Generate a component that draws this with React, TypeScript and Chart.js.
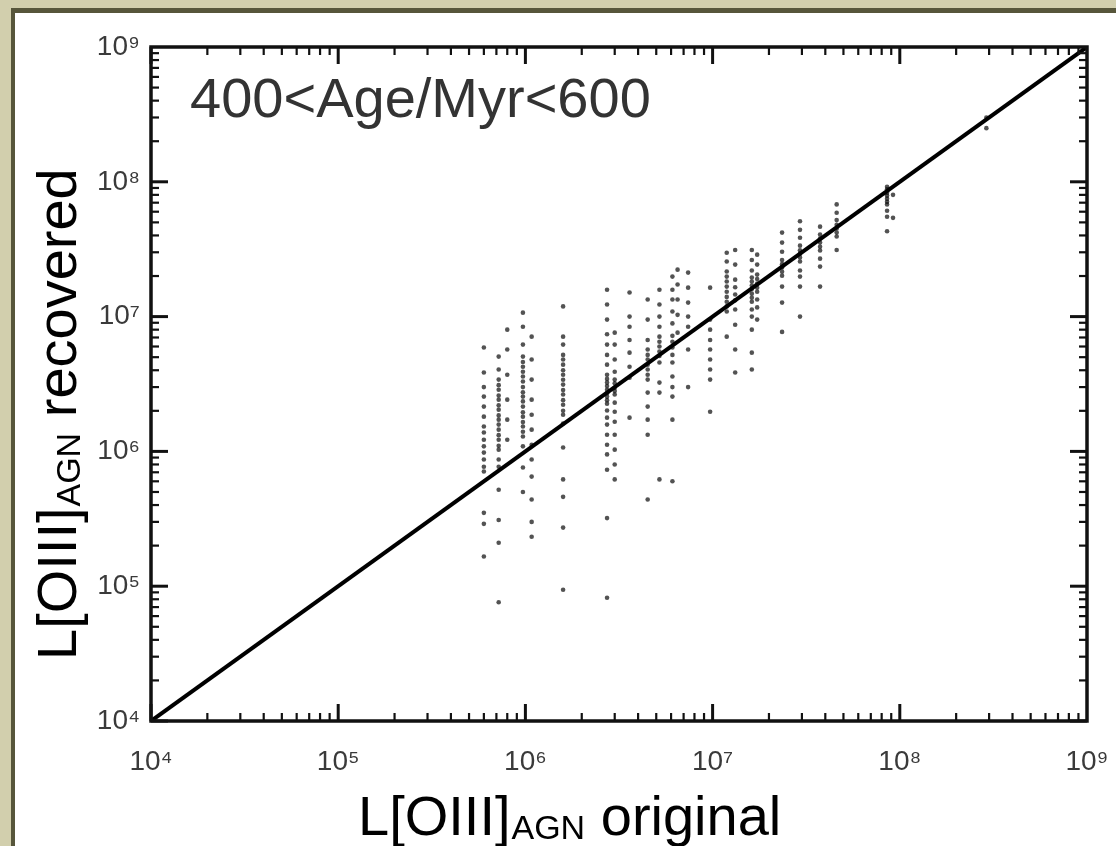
import React, { useEffect, useRef } from 'react';
import { Chart, registerables } from 'chart.js';

Chart.register(...registerables);

// ---- data ----
const tickLabels = ['10⁴', '10⁵', '10⁶', '10⁷', '10⁸', '10⁹'];
const axisMin = 1e4;
const axisMax = 1e9;
const lineX = [1e4, 1e9];
const lineY = [1e4, 1e9];
const panelLabel = '400<Age/Myr<600';
const titleMain = 'L[OIII]';
const titleSub = 'AGN';
const xTitleTail = ' original';
const yTitleTail = ' recovered';

const columnX = [
  6.0e5, 7.2e5, 8.0e5, 9.7e5, 1.08e6, 1.59e6, 2.73e6, 3.0e6, 3.6e6, 4.5e6, 5.2e6, 6.1e6, 6.5e6,
  7.4e6, 9.7e6, 1.19e7, 1.32e7, 1.62e7, 1.73e7, 2.35e7, 2.93e7, 3.75e7, 4.6e7, 8.55e7, 9.2e7, 2.9e8,
];
const columnY = [
  [5.9e6, 3.85e6, 3.0e6, 2.55e6, 2.15e6, 1.81e6, 1.53e6, 1.38e6, 1.22e6, 1.09e6, 9.8e5, 8.7e5, 7.7e5, 7.1e5, 3.5e5, 2.9e5, 1.66e5],
  [5.05e6, 4.05e6, 3.41e6, 3.1e6, 2.87e6, 2.6e6, 2.42e6, 2.2e6, 2.04e6, 1.85e6, 1.72e6, 1.58e6, 1.45e6, 1.32e6, 1.22e6, 1.1e6, 1.03e6, 8.7e5, 7.7e5, 5.2e5, 3.1e5, 2.1e5, 7.6e4],
  [8.0e6, 5.7e6, 3.7e6, 2.42e6, 1.72e6, 1.22e6],
  [1.07e7, 8.4e6, 6.2e6, 5.05e6, 4.6e6, 4.25e6, 3.9e6, 3.59e6, 3.3e6, 3.0e6, 2.75e6, 2.55e6, 2.35e6, 2.15e6, 1.95e6, 1.81e6, 1.65e6, 1.53e6, 1.4e6, 1.29e6, 1.09e6, 7.6e5, 5.0e5],
  [7.1e6, 4.8e6, 3.41e6, 2.42e6, 1.87e6, 1.45e6, 1.12e6, 8.7e5, 6.5e5, 4.4e5, 3.0e5, 2.33e5],
  [1.19e7, 7.1e6, 6.2e6, 5.2e6, 4.8e6, 4.4e6, 4.0e6, 3.7e6, 3.4e6, 3.13e6, 2.85e6, 2.64e6, 2.4e6, 2.22e6, 2.0e6, 1.87e6, 1.61e6, 1.07e6, 6.2e5, 4.6e5, 2.72e5, 9.4e4],
  [1.58e7, 1.23e7, 9.5e6, 7.4e6, 6.2e6, 5.2e6, 4.4e6, 3.7e6, 3.45e6, 3.24e6, 3.05e6, 2.87e6, 2.7e6, 2.55e6, 2.4e6, 2.26e6, 2.01e6, 1.78e6, 1.58e6, 1.33e6, 1.12e6, 9.5e5, 7.3e5, 3.2e5, 8.2e4],
  [7.6e6, 6.2e6, 4.8e6, 3.9e6, 3.41e6, 3.2e6, 2.97e6, 2.8e6, 2.64e6, 2.3e6, 1.97e6, 1.66e6, 1.33e6, 1.03e6, 8.0e5, 6.2e5],
  [1.51e7, 1.0e7, 8.4e6, 6.7e6, 5.4e6, 4.25e6, 3.52e6, 1.78e6],
  [1.34e7, 9.5e6, 6.7e6, 5.7e6, 5.2e6, 4.8e6, 4.4e6, 4.05e6, 3.7e6, 3.41e6, 2.73e6, 2.15e6, 1.72e6, 1.33e6, 4.4e5],
  [1.58e7, 1.23e7, 1.0e7, 8.4e6, 7.1e6, 6.5e6, 6.0e6, 5.5e6, 5.1e6, 4.56e6, 3.24e6, 2.73e6, 6.2e5],
  [1.98e7, 1.58e7, 1.34e7, 1.09e7, 8.9e6, 7.2e6, 6.5e6, 5.9e6, 5.2e6, 4.56e6, 3.59e6, 3.0e6, 2.55e6, 1.72e6, 6.0e5],
  [2.23e7, 1.73e7, 1.34e7, 1.03e7, 7.6e6],
  [2.12e7, 1.64e7, 1.27e7, 1.0e7, 8.4e6, 5.7e6, 3.0e6],
  [1.64e7, 9.5e6, 8.0e6, 6.7e6, 5.7e6, 4.8e6, 4.05e6, 3.41e6, 1.97e6],
  [2.98e7, 2.56e7, 2.16e7, 1.98e7, 1.82e7, 1.67e7, 1.53e7, 1.4e7, 1.29e7, 1.19e7, 1.09e7, 7.1e6],
  [3.12e7, 2.43e7, 1.88e7, 1.65e7, 1.46e7, 1.32e7, 1.13e7, 8.7e6, 5.7e6, 3.85e6],
  [3.12e7, 2.63e7, 2.2e7, 1.95e7, 1.82e7, 1.7e7, 1.6e7, 1.48e7, 1.38e7, 1.29e7, 1.13e7, 1.0e7, 8.0e6, 5.4e6, 4.05e6],
  [2.88e7, 2.43e7, 2.05e7, 1.9e7, 1.76e7, 1.64e7, 1.53e7, 1.34e7, 1.17e7, 9.5e6],
  [4.2e7, 3.54e7, 3.03e7, 2.63e7, 2.45e7, 2.31e7, 2.15e7, 2.01e7, 1.67e7, 1.27e7, 7.7e6],
  [5.1e7, 4.4e7, 3.85e7, 3.36e7, 3.1e7, 2.93e7, 2.75e7, 2.56e7, 2.2e7, 1.98e7, 1.67e7, 1.0e7],
  [4.65e7, 4.06e7, 3.8e7, 3.54e7, 3.3e7, 3.09e7, 2.69e7, 2.35e7, 1.67e7],
  [6.8e7, 5.9e7, 5.2e7, 4.8e7, 4.5e7, 4.2e7, 3.93e7, 3.12e7],
  [9.2e7, 8.8e7, 8.3e7, 7.9e7, 7.5e7, 7.1e7, 6.8e7, 6.1e7, 5.5e7, 4.3e7],
  [8.0e7, 5.4e7],
  [3.0e8, 2.5e8],
];

const FONT = '"Liberation Sans", Arial, Helvetica, sans-serif';

function decadeLabel(value: number): string {
  const e = Math.log10(value);
  const r = Math.round(e);
  if (Math.abs(e - r) < 1e-6 && r >= 4 && r <= 9) return tickLabels[r - 4];
  return '';
}

function drawSubTitle(ctx: CanvasRenderingContext2D, tail: string) {
  let x = 0;
  ctx.font = `56px ${FONT}`;
  ctx.fillText(titleMain, x, 0);
  x += ctx.measureText(titleMain).width;
  ctx.font = `34px ${FONT}`;
  ctx.fillText(titleSub, x + 1, 4);
  x += ctx.measureText(titleSub).width + 1;
  ctx.font = `56px ${FONT}`;
  ctx.fillText(tail, x, 0);
}

const framePlugin = {
  id: 'frameTicks',
  afterDatasetsDraw(chart: any) {
    const { ctx, chartArea: a, scales } = chart;
    const xs = scales.x;
    const ys = scales.y;
    ctx.save();
    ctx.strokeStyle = '#111';
    const seg = (x1: number, y1: number, x2: number, y2: number) => {
      ctx.beginPath();
      ctx.moveTo(x1, y1);
      ctx.lineTo(x2, y2);
      ctx.stroke();
    };
    for (let e = 4; e < 9; e++) {
      for (let m = 1; m <= 9; m++) {
        const v = m * Math.pow(10, e);
        const major = m === 1;
        const len = major ? 17 : 8;
        ctx.lineWidth = major ? 3 : 2.2;
        const px = xs.getPixelForValue(v);
        seg(px, a.bottom, px, a.bottom - len);
        seg(px, a.top, px, a.top + len);
        const py = ys.getPixelForValue(v);
        seg(a.left, py, a.left + len, py);
        seg(a.right, py, a.right - len, py);
      }
    }
    ctx.lineWidth = 3.5;
    ctx.strokeRect(a.left, a.top, a.right - a.left, a.bottom - a.top);
    ctx.restore();
  },
  afterDraw(chart: any) {
    const { ctx } = chart;
    ctx.save();
    ctx.textAlign = 'left';
    ctx.textBaseline = 'alphabetic';
    ctx.fillStyle = '#333';
    ctx.font = `56px ${FONT}`;
    ctx.fillText(panelLabel, 190, 117);
    ctx.fillStyle = '#000';
    ctx.save();
    ctx.translate(358, 835);
    drawSubTitle(ctx, xTitleTail);
    ctx.restore();
    ctx.save();
    ctx.translate(76, 660);
    ctx.rotate(-Math.PI / 2);
    drawSubTitle(ctx, yTitleTail);
    ctx.restore();
    ctx.restore();
  },
};

export default function App() {
  const canvasRef = useRef<HTMLCanvasElement | null>(null);

  useEffect(() => {
    const canvas = canvasRef.current;
    if (!canvas) return;
    const scatterData = columnX.flatMap((x, i) => columnY[i].map((y) => ({ x, y })));
    const lineData = lineX.map((x, i) => ({ x, y: lineY[i] }));
    const chart = new Chart(canvas, {
      type: 'scatter',
      data: {
        datasets: [
          {
            type: 'line',
            data: lineData,
            borderColor: '#000',
            borderWidth: 4,
            pointRadius: 0,
            fill: false,
            order: 0,
          } as any,
          {
            type: 'scatter',
            data: scatterData,
            pointRadius: 2.3,
            pointBorderWidth: 0,
            backgroundColor: 'rgba(10,10,10,0.7)',
            borderColor: 'rgba(0,0,0,0)',
            order: 1,
          } as any,
        ],
      },
      options: {
        animation: false,
        responsive: false,
        devicePixelRatio: 1,
        layout: { padding: { left: 0, top: 47, right: 29, bottom: 0 } },
        plugins: { legend: { display: false }, tooltip: { enabled: false } },
        scales: {
          x: {
            type: 'logarithmic',
            min: axisMin,
            max: axisMax,
            grid: { display: false, drawTicks: false },
            border: { display: false },
            afterFit: (s: any) => {
              s.height = 125;
              s.paddingLeft = 0;
              s.paddingRight = 0;
            },
            ticks: {
              autoSkip: false,
              maxRotation: 0,
              padding: 24,
              color: '#3a3a3a',
              font: { family: FONT, size: 28 },
              callback: (v: any) => decadeLabel(Number(v)),
            },
          },
          y: {
            type: 'logarithmic',
            min: axisMin,
            max: axisMax,
            grid: { display: false, drawTicks: false },
            border: { display: false },
            afterFit: (s: any) => {
              s.width = 151;
              s.paddingTop = 0;
              s.paddingBottom = 0;
            },
            ticks: {
              autoSkip: false,
              padding: 11,
              color: '#3a3a3a',
              font: { family: FONT, size: 28 },
              callback: (v: any) => decadeLabel(Number(v)),
            },
          },
        },
      },
      plugins: [framePlugin],
    });
    return () => chart.destroy();
  }, []);

  return (
    <div
      style={{
        position: 'fixed',
        left: 0,
        top: 0,
        width: 1116,
        height: 846,
        background: '#d2cfad',
        overflow: 'hidden',
      }}
    >
      <div
        style={{
          position: 'absolute',
          left: 11,
          top: 8,
          width: 1120,
          height: 860,
          background: '#fff',
          borderTop: '5px solid #57563b',
          borderLeft: '4px solid #57563b',
        }}
      />
      <canvas
        ref={canvasRef}
        width={1116}
        height={846}
        style={{ position: 'absolute', left: 0, top: 0, width: 1116, height: 846 }}
      />
    </div>
  );
}
